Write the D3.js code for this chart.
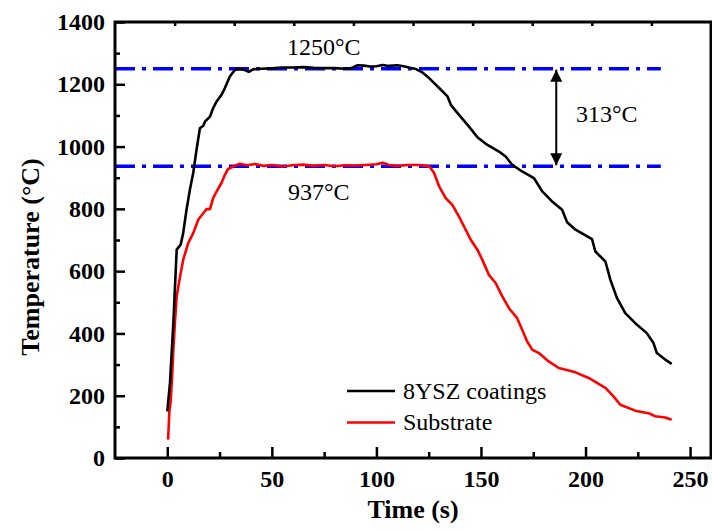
<!DOCTYPE html>
<html>
<head>
<meta charset="utf-8">
<script src="https://cdn.jsdelivr.net/npm/d3@7"></script>
<style>
  body { margin: 0; background: #fff; }
  svg { display: block; }
</style>
</head>
<body>
<div id="chart"></div>
<script>
// Chart data
var coatTime = [0, 1.3, 2.9, 4.5, 6.4, 7.6, 9.2, 10.8, 12.4, 14, 15.6, 17.2, 18, 20.4, 21.9, 23.6, 25.9, 27.5, 29.9, 32.3, 34.7,
  37, 39, 41, 45, 50, 55, 60, 65, 70, 75, 80, 85, 88, 91, 94, 97, 100, 103, 106, 110, 113, 116, 118.9,
  122, 125.2, 130, 134, 135.6, 139.5, 144.3, 148.3, 152.3, 158.6, 161.8, 165, 169.7, 175.3, 179.3, 184, 188.8, 191.2,
  195.2, 203.1, 204.7, 209.5, 211.9, 215, 219, 223.8, 229.3, 232.5, 234.1, 238.1, 241.2];
var coatTemp = [150, 241, 433, 669, 685, 722, 797, 861, 915, 990, 1059, 1067, 1080, 1096, 1123, 1145, 1166, 1187, 1225, 1246, 1249,
  1246, 1240, 1248, 1250, 1251, 1254, 1254, 1255, 1253, 1252, 1252, 1250, 1252, 1261, 1260, 1257, 1258, 1262, 1259, 1261, 1258, 1253, 1249,
  1238, 1220, 1188, 1161, 1134, 1102, 1064, 1030, 1009, 984, 968, 941, 920, 899, 856, 824, 797, 757,
  733, 703, 663, 631, 572, 514, 465, 433, 401, 369, 337, 316, 302];

var subTime = [0.4, 1.0, 1.6, 2.3, 2.9, 3.7, 4.5, 6.1, 7.6, 10, 12.4, 14.8, 17.2, 18.8, 20.4, 21.9, 23.6, 25.9, 27.5, 29.1, 31.5, 34.7,
  38, 42, 46, 50, 55, 60, 65, 70, 75, 80, 85, 90, 95, 100, 103, 106, 110, 115, 120.5, 123.7,
  125.5, 127.6, 130, 133.2, 136.3, 139.5, 142.7, 145.1, 148.3, 150.6, 153.8, 157, 160.2, 163.4, 167.3, 169.7, 172.1, 174.5,
  177.7, 182.4, 187.2, 195.2, 201.5, 209.5, 213.4, 216.6, 223.8, 230.1, 233.3, 238.1, 241.2];
var subTemp = [59, 150, 180, 260, 348, 440, 519, 583, 636, 690, 722, 765, 786, 799, 799, 834, 856, 883, 909, 928, 936, 945,
  940, 944, 938, 941, 936, 940, 942, 938, 941, 937, 940, 939, 941, 943, 948, 941, 938, 941, 941, 938,
  935, 915, 872, 834, 813, 775, 733, 701, 669, 637, 588, 562, 519, 481, 449, 412, 374, 348,
  337, 310, 289, 275, 257, 225, 198, 171, 152, 144, 134, 130, 123];

var seriesNames = ["8YSZ coatings", "Substrate"];
var seriesColors = ["#000000", "#ff0000"];

var xTicks = [0, 50, 100, 150, 200, 250];
var xMinorTicks = [25, 75, 125, 175, 225];
var yTicks = [0, 200, 400, 600, 800, 1000, 1200, 1400];
var yMinorTicks = [100, 300, 500, 700, 900, 1100, 1300];

var refLevels = [1250, 937];
var refLabels = ["1250°C", "937°C"];
var diffLabel = "313°C";
var arrowTime = 186;

// Set up the SVG area
var svgWidth = 712;
var svgHeight = 531;

var margin = { top: 22, right: 1, bottom: 73, left: 115 };
var chartWidth = svgWidth - margin.left - margin.right;
var chartHeight = svgHeight - margin.top - margin.bottom;

var svg = d3.select("#chart")
  .append("svg")
  .attr("width", svgWidth)
  .attr("height", svgHeight)
  .style("background", "#fff");

var chartGroup = svg.append("g")
  .attr("transform", `translate(${margin.left}, ${margin.top})`);

var xScale = d3.scaleLinear().domain([-25, 260]).range([0, chartWidth]);
var yScale = d3.scaleLinear().domain([0, 1400]).range([chartHeight, 0]);

var tickFont = "'Liberation Serif', 'Times New Roman', serif";

// Bottom axis, major and minor ticks pointing inward
var xAxis = chartGroup.append("g")
  .attr("transform", `translate(0, ${chartHeight})`)
  .call(d3.axisBottom(xScale).tickValues(xTicks).tickFormat(d3.format("d"))
    .tickSizeInner(-11).tickSizeOuter(0).tickPadding(12));
chartGroup.append("g")
  .attr("transform", `translate(0, ${chartHeight})`)
  .call(d3.axisBottom(xScale).tickValues(xMinorTicks).tickSize(-6).tickFormat(""));

// Left axis
var yAxis = chartGroup.append("g")
  .call(d3.axisLeft(yScale).tickValues(yTicks).tickFormat(d3.format("d"))
    .tickSizeInner(-10).tickSizeOuter(0).tickPadding(10));
chartGroup.append("g")
  .call(d3.axisLeft(yScale).tickValues(yMinorTicks).tickSize(-5).tickFormat(""));

// Top frame has its own evenly spaced ticks
var topScale = d3.scaleLinear().domain([0, 10]).range([0, chartWidth]);
chartGroup.append("g")
  .call(d3.axisTop(topScale).tickValues(d3.range(1, 10)).tickSize(-4).tickFormat(""));

chartGroup.selectAll(".domain").remove();
chartGroup.selectAll(".tick line")
  .attr("stroke", "#000")
  .attr("stroke-width", 2.5);
chartGroup.selectAll(".tick text")
  .attr("font-family", tickFont)
  .attr("font-weight", "bold")
  .attr("font-size", "24px")
  .attr("fill", "#000");

// Reference lines (dash-dot)
chartGroup.selectAll(".refline")
  .data(refLevels)
  .join("line")
  .attr("class", "refline")
  .attr("x1", 0)
  .attr("x2", xScale(236) )
  .attr("y1", d => yScale(d))
  .attr("y2", d => yScale(d))
  .attr("stroke", "#0000ff")
  .attr("stroke-width", 3.5)
  .attr("stroke-dasharray", "20 7 4 7");

// Temperature curves
var line = d3.line()
  .x(d => xScale(d[0]))
  .y(d => yScale(d[1]));

var coatData = coatTime.map((t, i) => [t, coatTemp[i]]);
var subData = subTime.map((t, i) => [t, subTemp[i]]);

chartGroup.append("path")
  .datum(subData)
  .attr("d", line)
  .attr("fill", "none")
  .attr("stroke", seriesColors[1])
  .attr("stroke-width", 2.6)
  .attr("stroke-linejoin", "round");

chartGroup.append("path")
  .datum(coatData)
  .attr("d", line)
  .attr("fill", "none")
  .attr("stroke", seriesColors[0])
  .attr("stroke-width", 2.6)
  .attr("stroke-linejoin", "round");

// Double arrow between the two levels
var defs = svg.append("defs");
defs.append("marker")
  .attr("id", "arrowhead")
  .attr("viewBox", "0 0 10 10")
  .attr("refX", 10)
  .attr("refY", 5)
  .attr("markerWidth", 6.5)
  .attr("markerHeight", 6)
  .attr("markerUnits", "strokeWidth")
  .attr("orient", "auto-start-reverse")
  .append("path")
  .attr("d", "M0,0 L10,5 L0,10 Z")
  .attr("fill", "#000");

chartGroup.append("line")
  .attr("x1", xScale(arrowTime))
  .attr("x2", xScale(arrowTime))
  .attr("y1", yScale(refLevels[0]) + 1)
  .attr("y2", yScale(refLevels[1]) - 1)
  .attr("stroke", "#000")
  .attr("stroke-width", 2)
  .attr("marker-start", "url(#arrowhead)")
  .attr("marker-end", "url(#arrowhead)");

// Annotation text
var annoFont = "'Liberation Serif', 'Times New Roman', serif";
chartGroup.append("text")
  .attr("x", 172).attr("y", 33)
  .attr("font-family", annoFont).attr("font-size", "24px")
  .text(refLabels[0]);
chartGroup.append("text")
  .attr("x", 173).attr("y", 178)
  .attr("font-family", annoFont).attr("font-size", "24px")
  .text(refLabels[1]);
chartGroup.append("text")
  .attr("x", 461).attr("y", 100)
  .attr("font-family", annoFont).attr("font-size", "24px")
  .text(diffLabel);

// Legend
var legend = chartGroup.append("g")
  .attr("transform", "translate(232, 369)");
legend.selectAll("line")
  .data(seriesNames)
  .join("line")
  .attr("x1", 0)
  .attr("x2", 48)
  .attr("y1", (d, i) => i * 31.5)
  .attr("y2", (d, i) => i * 31.5)
  .attr("stroke", (d, i) => seriesColors[i])
  .attr("stroke-width", 2.6);
legend.selectAll("text")
  .data(seriesNames)
  .join("text")
  .attr("x", 56)
  .attr("y", (d, i) => i * 31.5 + 7.5)
  .attr("font-family", annoFont)
  .attr("font-size", "24px")
  .text(d => d);

// Frame
chartGroup.append("rect")
  .attr("x", 0)
  .attr("y", 0)
  .attr("width", chartWidth)
  .attr("height", chartHeight)
  .attr("fill", "none")
  .attr("stroke", "#000")
  .attr("stroke-width", 3);

// Axis titles
svg.append("text")
  .attr("text-anchor", "middle")
  .attr("transform", `translate(39, 257) rotate(-90)`)
  .attr("font-family", tickFont)
  .attr("font-weight", "bold")
  .attr("font-size", "26px")
  .text("Temperature (°C)");

svg.append("text")
  .attr("text-anchor", "middle")
  .attr("x", margin.left + chartWidth / 2)
  .attr("y", 518)
  .attr("font-family", tickFont)
  .attr("font-weight", "bold")
  .attr("font-size", "26px")
  .text("Time (s)");
</script>
</body>
</html>
